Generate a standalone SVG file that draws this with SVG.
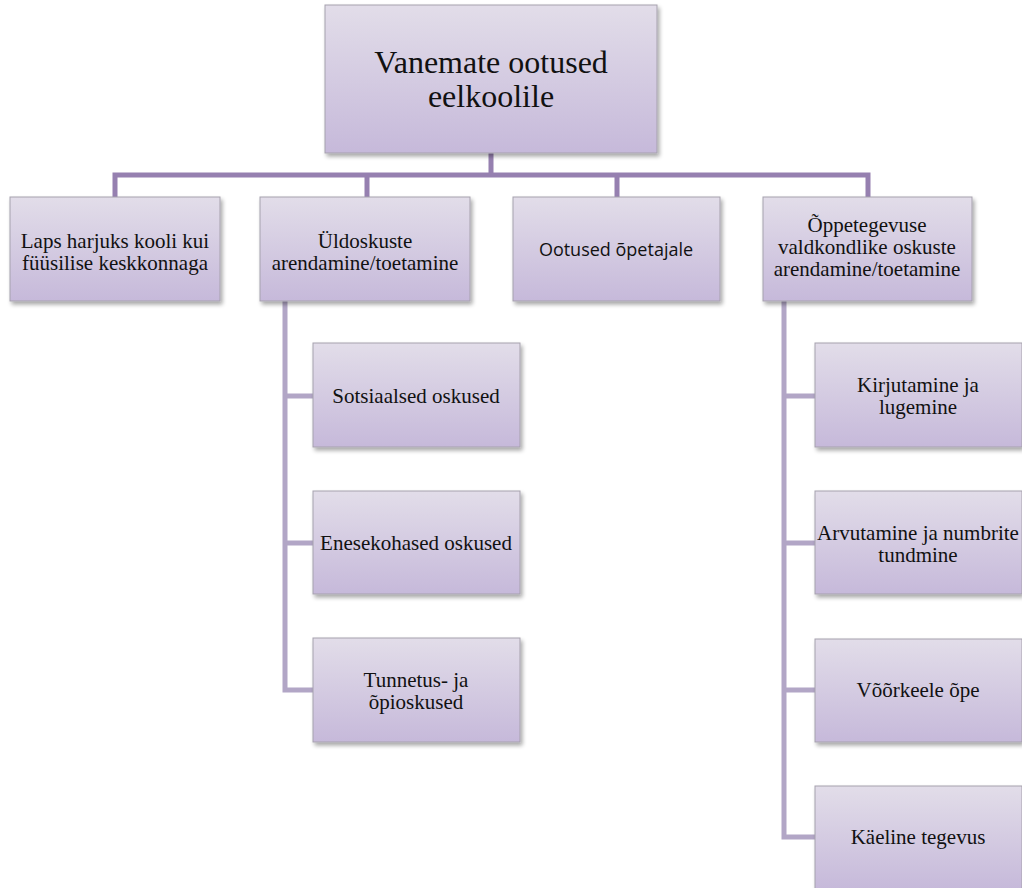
<svg xmlns="http://www.w3.org/2000/svg" width="1022" height="888" viewBox="0 0 1022 888">
<defs>
<linearGradient id="g" x1="0" y1="0" x2="0" y2="1">
<stop offset="0" stop-color="#e2dde9"/>
<stop offset="1" stop-color="#c6b9da"/>
</linearGradient>
<filter id="sh" x="-10%" y="-10%" width="125%" height="130%">
<feGaussianBlur in="SourceAlpha" stdDeviation="2"/>
<feOffset dx="2" dy="3" result="b"/>
<feComponentTransfer><feFuncA type="linear" slope="0.35"/></feComponentTransfer>
<feMerge><feMergeNode/><feMergeNode in="SourceGraphic"/></feMerge>
</filter>
</defs>
<style>
.box{fill:url(#g);stroke:#a6a1ad;stroke-width:1;filter:url(#sh)}
.t{font-family:"Liberation Serif","Times New Roman",serif;font-size:21px;fill:#111;text-anchor:middle}
.s{font-family:"Open Sans","Liberation Sans",sans-serif;font-size:18px;fill:#111;text-anchor:middle}
.c1{fill:none;stroke:#9680b0;stroke-width:5}
.c2{fill:none;stroke:#b2a6c6;stroke-width:5}
</style>
<rect width="1022" height="888" fill="#ffffff"/>
<g id="connectors">
<path class="c1" d="M491 153 V175 M115 197 V175 H868 V197 M367 175 V197 M617 175 V197"/>
<path class="c2" d="M285 301 V690 H313 M285 396 H313 M285 543 H313"/>
<path class="c2" d="M784 301 V837 H815 M784 396 H815 M784 543 H815 M784 690 H815"/>
</g>
<g id="root">
<rect class="box" x="325" y="5" width="332" height="148"/>
<text class="t" style="font-size:32px" x="491" y="73">Vanemate ootused</text>
<text class="t" style="font-size:32px" x="491" y="107">eelkoolile</text>
</g>
<g id="n1">
<rect class="box" x="10" y="197" width="210" height="104"/>
<text class="t" x="115" y="248">Laps harjuks kooli kui</text>
<text class="t" x="115" y="270">füüsilise keskkonnaga</text>
</g>
<g id="n2">
<rect class="box" x="260" y="197" width="210" height="104"/>
<text class="t" x="365" y="248">Üldoskuste</text>
<text class="t" x="365" y="270">arendamine/toetamine</text>
</g>
<g id="n3">
<rect class="box" x="513" y="197" width="207" height="104"/>
<text class="s" x="616" y="256">Ootused õpetajale</text>
</g>
<g id="n4">
<rect class="box" x="763" y="197" width="209" height="104"/>
<text class="t" x="867" y="232">Õppetegevuse</text>
<text class="t" x="867" y="254">valdkondlike oskuste</text>
<text class="t" x="867" y="276">arendamine/toetamine</text>
</g>
<g id="n2a">
<rect class="box" x="313" y="343" width="207" height="104"/>
<text class="t" x="416" y="403">Sotsiaalsed oskused</text>
</g>
<g id="n2b">
<rect class="box" x="313" y="491" width="207" height="103"/>
<text class="t" x="416" y="550">Enesekohased oskused</text>
</g>
<g id="n2c">
<rect class="box" x="313" y="638" width="207" height="104"/>
<text class="t" x="416" y="687">Tunnetus- ja</text>
<text class="t" x="416" y="709">õpioskused</text>
</g>
<g id="n4a">
<rect class="box" x="815" y="343" width="207" height="104"/>
<text class="t" x="918" y="392">Kirjutamine ja</text>
<text class="t" x="918" y="414">lugemine</text>
</g>
<g id="n4b">
<rect class="box" x="815" y="491" width="207" height="103"/>
<text class="t" x="918" y="540">Arvutamine ja numbrite</text>
<text class="t" x="918" y="562">tundmine</text>
</g>
<g id="n4c">
<rect class="box" x="815" y="639" width="207" height="103"/>
<text class="t" x="918" y="697">Võõrkeele õpe</text>
</g>
<g id="n4d">
<rect class="box" x="815" y="786" width="207" height="104"/>
<text class="t" x="918" y="844">Käeline tegevus</text>
</g>
</svg>
